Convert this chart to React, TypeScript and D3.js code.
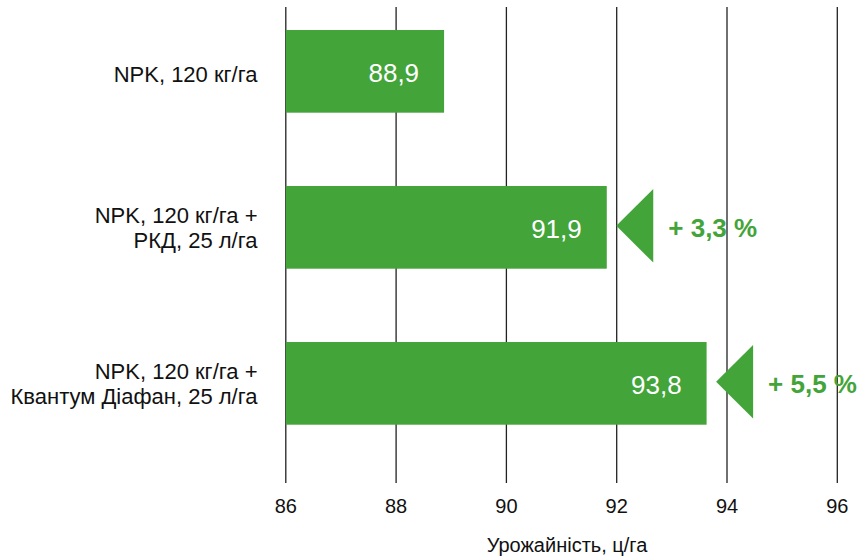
import React from "react";
import * as d3 from "d3";

const categories: string[][] = [
  ["NPK, 120 кг/га"],
  ["NPK, 120 кг/га +", "РКД, 25 л/га"],
  ["NPK, 120 кг/га +", "Квантум Діафан, 25 л/га"],
];
const barValues: number[] = [88.87, 91.82, 93.63];
const valueLabels: string[] = ["88,9", "91,9", "93,8"];
const increaseLabels: (string | null)[] = [null, "+ 3,3 %", "+ 5,5 %"];
const ticks: number[] = [86, 88, 90, 92, 94, 96];
const tickLabels: string[] = ["86", "88", "90", "92", "94", "96"];
const axisTitle = "Урожайність, ц/га";

const W = 866;
const H = 556;
const GREEN = "#43A43A";
const FONT = "'Liberation Sans', Arial, Helvetica, sans-serif";

export default function App() {
  const x = d3.scaleLinear().domain([86, 96]).range([285.8, 837.3]);
  const y = d3
    .scaleBand<number>()
    .domain(categories.map((_, i) => i))
    .range([30, 424.7])
    .paddingInner(0.47)
    .paddingOuter(0);
  const bw = y.bandwidth();

  return (
    <div style={{ position: "absolute", left: 0, top: 0 }}>
      <svg width={W} height={H} style={{ display: "block", background: "#fff" }} fontFamily={FONT}>
        {ticks.map((t, i) => (
          <g key={t}>
            <line x1={x(t)} x2={x(t)} y1={7} y2={483} stroke="#222" strokeWidth={1.3} />
            <text x={x(t)} y={513} textAnchor="middle" fontSize={20} fill="#111">
              {tickLabels[i]}
            </text>
          </g>
        ))}
        <text x={567} y={552} textAnchor="middle" fontSize={20} fill="#111">
          {axisTitle}
        </text>
        {barValues.map((v, i) => {
          const y0 = y(i) as number;
          const cy = y0 + bw / 2;
          const xe = x(v);
          const lines = categories[i];
          const lh = 25;
          const firstBase = lines.length === 1 ? cy + 10.5 : cy + 8 - lh / 2;
          const tl = xe + 9.5;
          const tw = 37;
          const th = 73.5;
          const tcy = cy - 1.5;
          return (
            <g key={i}>
              <rect x={x(86)} y={y0} width={xe - x(86)} height={bw} fill={GREEN} />
              <text x={xe - 25} y={cy + 10.5} textAnchor="end" fontSize={26} fill="#fff">
                {valueLabels[i]}
              </text>
              {lines.map((l, j) => (
                <text key={j} x={257.5} y={firstBase + j * lh} textAnchor="end" fontSize={22} fill="#111">
                  {l}
                </text>
              ))}
              {increaseLabels[i] && (
                <g>
                  <path
                    d={`M${tl},${tcy} L${tl + tw},${tcy - th / 2} L${tl + tw},${tcy + th / 2} Z`}
                    fill={GREEN}
                  />
                  <text x={tl + tw + 15} y={cy + 9.5} fontSize={26} fontWeight="bold" fill={GREEN}>
                    {increaseLabels[i]}
                  </text>
                </g>
              )}
            </g>
          );
        })}
      </svg>
    </div>
  );
}
